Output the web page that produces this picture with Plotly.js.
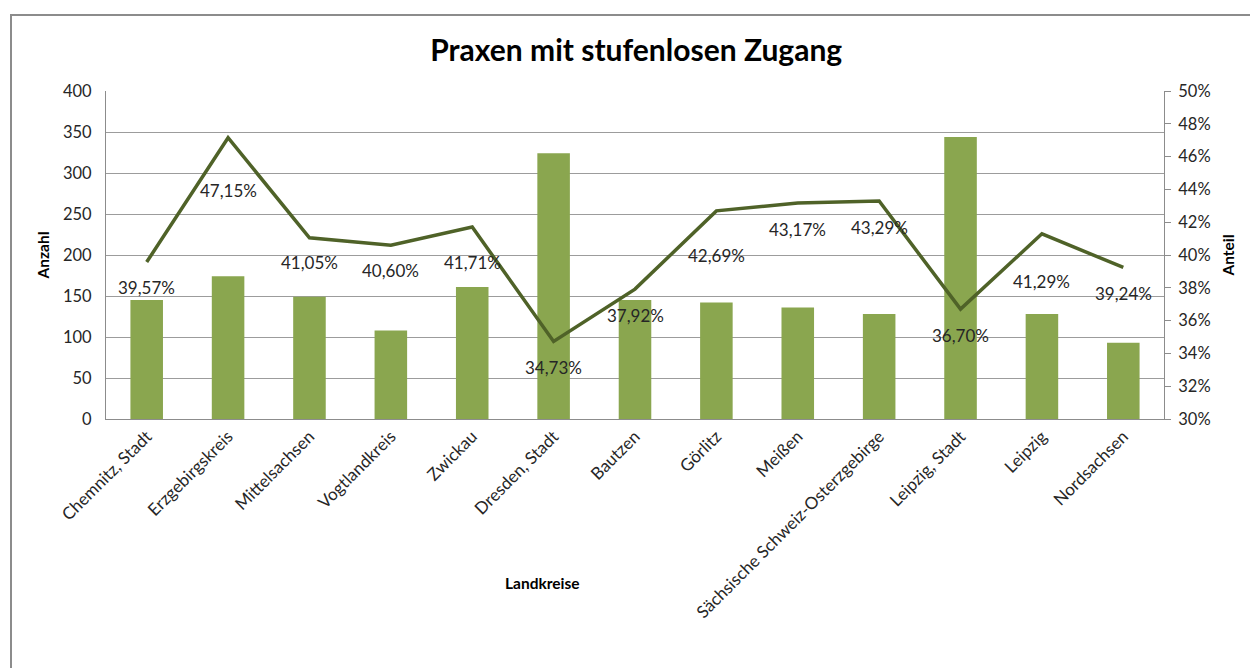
<!DOCTYPE html>
<html>
<head>
<meta charset="utf-8">
<script src="https://cdn.plot.ly/plotly-3.0.1.min.js"></script>
<style>
  html, body { margin: 0; padding: 0; background: #ffffff; overflow: hidden; }
  #frame { position: absolute; left: 10px; top: 14px; width: 1260px; height: 680px; border: 2px solid #8c8c8c; box-sizing: border-box; }
  #chart { position: absolute; left: 0; top: 0; width: 1250px; height: 668px; }
</style>
</head>
<body>
<div id="frame"></div>
<div id="chart"></div>
<script>
// ---- data ----
const categories = ["Chemnitz, Stadt", "Erzgebirgskreis", "Mittelsachsen", "Vogtlandkreis", "Zwickau",
  "Dresden, Stadt", "Bautzen", "Görlitz", "Meißen", "Sächsische Schweiz-Osterzgebirge",
  "Leipzig, Stadt", "Leipzig", "Nordsachsen"];
const anzahl = [145, 174, 149, 108, 161, 324, 145, 142, 136, 128, 344, 128, 93];
const anteil = [39.57, 47.15, 41.05, 40.60, 41.71, 34.73, 37.92, 42.69, 43.17, 43.29, 36.70, 41.29, 39.24];

// ---- label placement (pixels below each point) ----
const labelDrop = [25, 53, 25, 25, 36, 26, 26, 45, 26, 26, 26, 48, 26];

const FONT = "Lato, 'Open Sans', sans-serif";
const TXT = "#262626";

const fmt = v => v.toFixed(2).replace('.', ',') + '%';

const annotations = categories.map((c, i) => ({
  x: c, y: anteil[i], xref: 'x', yref: 'y2',
  text: fmt(anteil[i]), showarrow: false,
  yshift: -labelDrop[i],
  font: { family: FONT, size: 17, color: TXT }
}));

annotations.push({
  text: 'Landkreise', xref: 'paper', yref: 'paper',
  x: (542 - 106) / (1164 - 106), y: (668 - 249 - 583) / (668 - 91 - 249),
  showarrow: false, xanchor: 'center', yanchor: 'middle',
  font: { family: FONT, size: 15.5, color: '#000', weight: 'bold' }
});

const traces = [
  {
    type: 'bar', name: 'Anzahl', x: categories, y: anzahl,
    marker: { color: '#8aa64f' }, yaxis: 'y', hoverinfo: 'x+y'
  },
  {
    type: 'scatter', mode: 'lines', name: 'Anteil', x: categories, y: anteil,
    yaxis: 'y2', line: { color: '#4f6228', width: 3.5 }
  }
];

const layout = {
  width: 1250, height: 668,
  margin: { l: 106, r: 86, t: 91, b: 249 },
  paper_bgcolor: 'rgba(0,0,0,0)', plot_bgcolor: '#ffffff',
  showlegend: false,
  bargap: 0.6,
  separators: ',.',
  title: {
    text: 'Praxen mit stufenlosen Zugang',
    x: 0.509, xanchor: 'center', y: 0.925, yanchor: 'middle',
    font: { family: FONT, size: 30, color: '#000', weight: 'bold' }
  },
  xaxis: {
    type: 'category', tickangle: -45,
    tickfont: { family: FONT, size: 17, color: TXT },
    showline: true, linecolor: '#8c8c8c', linewidth: 1,
    ticks: '', showgrid: false, mirror: false
  },
  yaxis: {
    range: [0, 400], dtick: 50,
    tickfont: { family: FONT, size: 16.5, color: TXT },
    ticklabelstandoff: 10,
    showgrid: true, gridcolor: '#9c9c9c', gridwidth: 1,
    showline: true, linecolor: '#8c8c8c', linewidth: 1,
    zeroline: false, ticks: '',
    title: { text: 'Anzahl', standoff: 9, font: { family: FONT, size: 15.5, color: '#000', weight: 'bold' } }
  },
  yaxis2: {
    overlaying: 'y', side: 'right',
    range: [30, 50], dtick: 2, ticksuffix: '%',
    tickfont: { family: FONT, size: 16.5, color: TXT },
    ticklabelstandoff: 4,
    showgrid: false, showline: true, linecolor: '#8c8c8c', linewidth: 1,
    ticks: 'outside', ticklen: 6, tickcolor: '#8c8c8c',
    zeroline: false,
    title: { text: 'Anteil', standoff: 13, font: { family: FONT, size: 15.5, color: '#000', weight: 'bold' } }
  },
  annotations: annotations
};

Plotly.newPlot('chart', traces, layout, { displayModeBar: false, staticPlot: true });
</script>
</body>
</html>
